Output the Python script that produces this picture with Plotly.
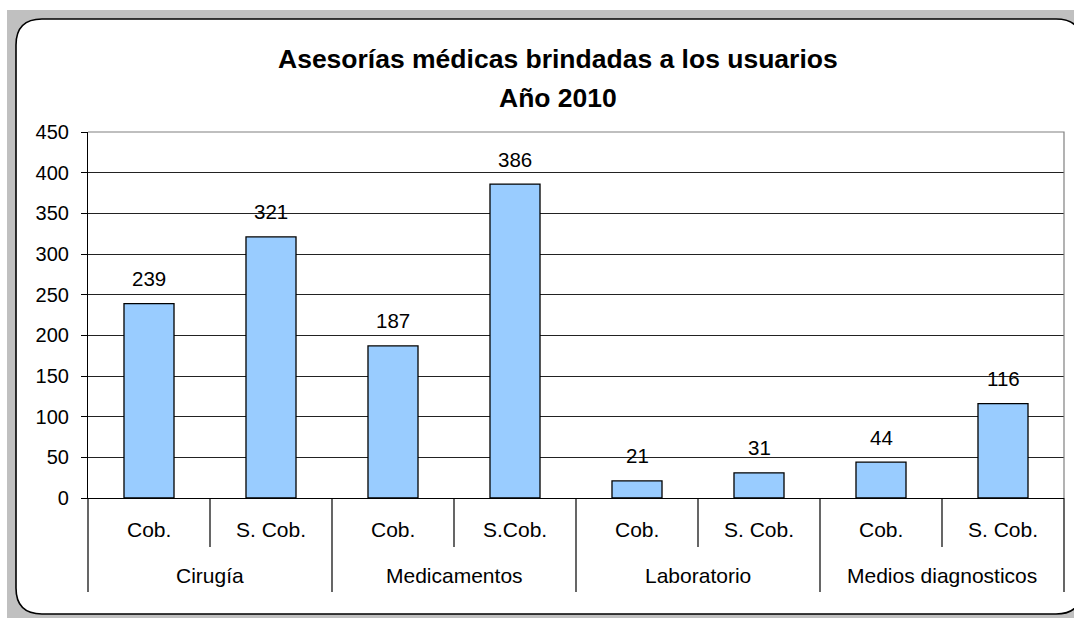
import plotly.graph_objects as go

# ---- data ----
groups = ["Cirugía", "Medicamentos", "Laboratorio", "Medios diagnosticos"]
sub_labels = ["Cob.", "S. Cob.", "Cob.", "S.Cob.", "Cob.", "S. Cob.", "Cob.", "S. Cob."]
values = [239, 321, 187, 386, 21, 31, 44, 116]
title_line1 = "Asesorías médicas brindadas a los usuarios"
title_line2 = "Año 2010"

W, H = 1074, 618
L, R, T, B = 88, 10, 132, 120
PW, PH = W - L - R, H - T - B
FONT = "Liberation Sans, Arial, sans-serif"


def px(x):
    return (x - L) / PW


def py(y):
    return (H - B - y) / PH


n = len(values)
xs = list(range(n))

fig = go.Figure()
fig.add_trace(go.Bar(
    x=xs, y=values,
    marker=dict(color="#99CCFF", line=dict(color="#000000", width=1.3)),
    hoverinfo="skip",
))

shapes = []
# outer gray frame
shapes.append(dict(type="rect", xref="paper", yref="paper",
                   x0=px(7), x1=px(1100), y0=py(10), y1=py(640),
                   fillcolor="#C0C0C0", line=dict(width=0), layer="below"))
# white rounded box
x0, x1, y0, y1, r = 16, 1082, 19, 614, 26
path = (f"M {px(x0 + r)},{py(y0)} L {px(x1 - r)},{py(y0)} "
        f"Q {px(x1)},{py(y0)} {px(x1)},{py(y0 + r)} "
        f"L {px(x1)},{py(y1 - r)} Q {px(x1)},{py(y1)} {px(x1 - r)},{py(y1)} "
        f"L {px(x0 + r)},{py(y1)} Q {px(x0)},{py(y1)} {px(x0)},{py(y1 - r)} "
        f"L {px(x0)},{py(y0 + r)} Q {px(x0)},{py(y0)} {px(x0 + r)},{py(y0)} Z")
shapes.append(dict(type="path", xref="paper", yref="paper", path=path,
                   fillcolor="#FFFFFF", line=dict(color="#000000", width=1.6), layer="below"))
# plot area top/right border (gray)
shapes.append(dict(type="path", xref="paper", yref="paper",
                   path="M 0,1 L 1,1 L 1,0", line=dict(color="#808080", width=1.2), layer="above"))
# category dividers
per_group = n // len(groups)
for k in range(n + 1):
    length = 94 if k % per_group == 0 else 49
    shapes.append(dict(type="line", xref="paper", yref="paper",
                       ysizemode="pixel", yanchor=0,
                       x0=k / n, x1=k / n, y0=-length, y1=0,
                       line=dict(color="#000000", width=1.2)))

annotations = []
# title
annotations.append(dict(text=f"<b>{title_line1}</b>", x=px(557.5), y=py(59), xref="paper", yref="paper",
                        showarrow=False, xanchor="center", yanchor="middle",
                        font=dict(family=FONT, size=26.5, color="#000000")))
annotations.append(dict(text=f"<b>{title_line2}</b>", x=px(557.5), y=py(98), xref="paper", yref="paper",
                        showarrow=False, xanchor="center", yanchor="middle",
                        font=dict(family=FONT, size=26.5, color="#000000")))
# data labels
for i, v in enumerate(values):
    annotations.append(dict(text=str(v), x=i, y=v, xref="x", yref="y", showarrow=False,
                            xanchor="center", yanchor="middle", yshift=25,
                            font=dict(family=FONT, size=20.5, color="#000000")))
# sub labels
for i, s in enumerate(sub_labels):
    annotations.append(dict(text=s, x=i, y=0, xref="x", yref="paper", showarrow=False,
                            xanchor="center", yanchor="middle", yshift=-31,
                            font=dict(family=FONT, size=21, color="#000000")))
# group labels
for g, name in enumerate(groups):
    annotations.append(dict(text=name, x=g * per_group + (per_group - 1) / 2, y=0, xref="x", yref="paper",
                            showarrow=False, xanchor="center", yanchor="middle", yshift=-77,
                            font=dict(family=FONT, size=21, color="#000000")))

fig.update_layout(
    width=W, height=H,
    margin=dict(l=L, r=R, t=T, b=B, autoexpand=False),
    paper_bgcolor="#FFFFFF", plot_bgcolor="rgba(0,0,0,0)",
    showlegend=False, bargap=0.59,
    shapes=shapes, annotations=annotations,
    font=dict(family=FONT, size=20, color="#000000"),
    xaxis=dict(range=[-0.5, n - 0.5], showticklabels=False, showgrid=False, zeroline=False,
               showline=True, linecolor="#000000", linewidth=1.2, ticks="", fixedrange=True),
    yaxis=dict(range=[0, 450], dtick=50, tick0=0, showgrid=True, gridcolor="#222222", gridwidth=1,
               zeroline=False, showline=True, linecolor="#000000", linewidth=1.2,
               ticks="outside", ticklen=6, tickcolor="#000000", tickwidth=1.2,
               ticklabelstandoff=8,
               tickfont=dict(family=FONT, size=20, color="#000000"), fixedrange=True),
)

fig.write_html(
    "out.html",
    config={"displayModeBar": False},
    post_script="document.body.style.margin='0px';document.body.style.overflow='hidden';",
)
